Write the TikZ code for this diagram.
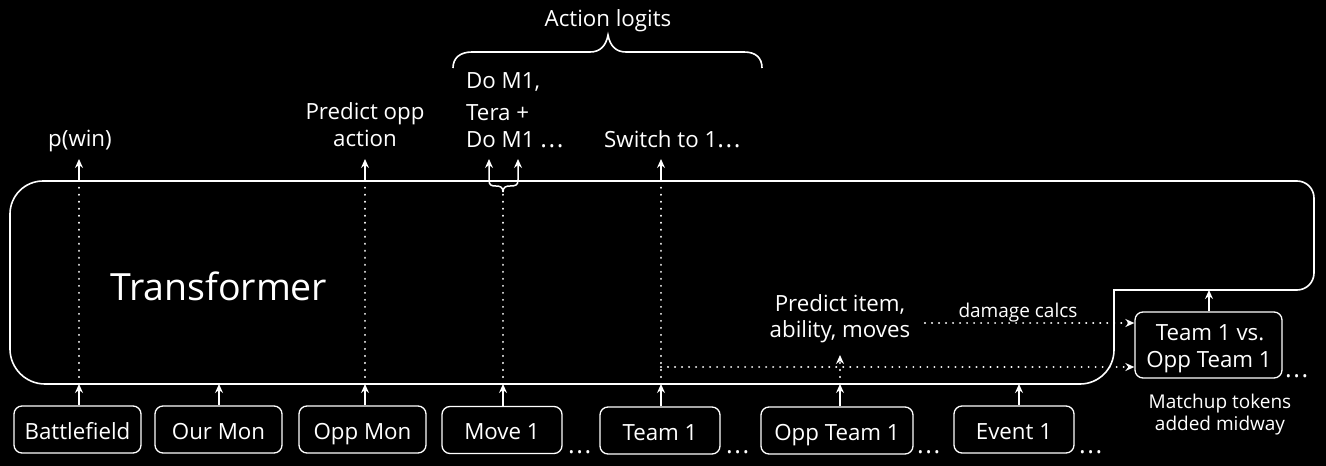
\documentclass[tikz,border=0pt]{standalone}
\usepackage{fontspec}
\setmainfont{Open Sans}
\usetikzlibrary{arrows.meta}
\newcommand\mydots{{\fontsize{25}{27}\selectfont.\kern1.6pt.\kern1.6pt.}}
\begin{document}
\begin{tikzpicture}[x=1pt,y=-1pt,
  outline/.style={draw=white, line width=1.6pt},
  tip/.style={-{Stealth[length=9pt,width=8pt,inset=3pt]}},
  arr/.style={draw=white, line width=1.5pt, tip},
  dot/.style={draw=white, line width=2.2pt, line cap=round, dash pattern=on 0.01pt off 7pt},
  tok/.style={draw=white, line width=1.3pt, rounded corners=8pt, minimum height=47pt,
    inner sep=0pt, text height=19pt, text depth=0pt, text=white,
    font=\fontsize{22.3}{27}\selectfont},
  lbl/.style={text=white, inner sep=0pt, anchor=base, font=\fontsize{22.3}{27}\selectfont},
  small/.style={text=white, inner sep=0pt, anchor=base, font=\fontsize{19}{23}\selectfont},
]
\fill[black] (0,0) rectangle (1326,466);
\useasboundingbox (0,0) rectangle (1326,466);

% Transformer outline
\draw[outline] (10,349) -- (10,214) .. controls (10,195.8) and (24.8,181) .. (43,181)
  -- (1297,181) .. controls (1306.4,181) and (1314,188.6) .. (1314,198)
  -- (1314,273) .. controls (1314,282.4) and (1306.4,290) .. (1297,290)
  -- (1114,290) -- (1114,350) .. controls (1114,368.8) and (1098.8,384) .. (1080,384)
  -- (45,384) .. controls (25.7,384) and (10,368.3) .. (10,349) -- cycle;
\node[text=white, inner sep=0pt, anchor=base west, font=\fontsize{37.5}{44}\selectfont] (tr) at (110,300) {Transformer};

% input tokens
\node[tok, minimum width=127pt] (bf) at (77.5,429.5) {Battlefield};
\node[tok, minimum width=127pt] (om) at (218.5,429.5) {Our Mon};
\node[tok, minimum width=127pt] (opm) at (362.5,429.5) {Opp Mon};
\node[tok, minimum width=120pt] (mv) at (502,430) {Move 1};
\node[tok, minimum width=120pt] (tm) at (660,430.5) {Team 1};
\node[tok, minimum width=152pt] (otm) at (837,430.5) {Opp Team 1};
\node[tok, minimum width=120pt] (ev) at (1014,429.5) {Event 1};
\node[draw=white, line width=1.3pt, rounded corners=8pt, minimum width=147pt, minimum height=66pt, inner sep=0pt] (mu) at (1208.5,345) {};
\node[lbl] (mu1) at (1210,340) {Team 1 vs.};
\node[lbl] (mu2) at (1209,367) {Opp Team 1};
\node[small] (mt1) at (1220,408) {Matchup tokens};
\node[small] (mt2) at (1220,430) {added midway};

% ellipses
\node[lbl, anchor=base west] (e1) at (568,453) {\mydots};
\node[lbl, anchor=base west] (e2) at (726,453) {\mydots};
\node[lbl, anchor=base west] (e3) at (917,453) {\mydots};
\node[lbl, anchor=base west] (e4) at (1079,453) {\mydots};
\node[lbl, anchor=base west] (e5) at (1285,377) {\mydots};

% coordinates on transformer bottom and top
\coordinate (a1) at (79,384); \coordinate (a2) at (219,384); \coordinate (a3) at (365,384);
\coordinate (a4) at (503,384); \coordinate (a5) at (661,384); \coordinate (a6) at (840,384);
\coordinate (a7) at (1019,384);
\coordinate (t1) at (79,181); \coordinate (t3) at (365,181); \coordinate (t5) at (661,181);
\coordinate (o1) at (79,159); \coordinate (o3) at (365,159); \coordinate (o5) at (661,159);
\coordinate (bt) at (503,192);
\coordinate (oL) at (489,159); \coordinate (oR) at (518,159);

\foreach \n/\c in {bf/a1, om/a2, opm/a3, mv/a4, tm/a5, otm/a6, ev/a7}
  \draw[arr] (\n.north -| \c) -- (\c);

\draw[dot] (a1) -- (t1); \draw[arr] (t1) -- (o1);
\draw[dot] (a3) -- (t3); \draw[arr] (t3) -- (o3);
\draw[dot] (a5) -- (t5); \draw[arr] (t5) -- (o5);
\draw[dot] (a4) -- (bt);
\draw[arr] (bt) .. controls (503,187) and (500,186) .. (496,186)
  .. controls (491,186) and (489,185) .. (489,180) -- (oL);
\draw[arr] (bt) .. controls (503,187) and (506,186) .. (510,186)
  .. controls (516,186) and (518,185) .. (518,180) -- (oR);

% opp team prediction
\coordinate (p6) at (840,355);
\draw[dot, tip] (a6) -- (p6);
\node[lbl] (pi1) at (840,311) {Predict item,};
\node[lbl] (pi2) at (840,337) {ability, moves};
\coordinate (d0) at (925,323);
\draw[dot, tip] (d0) -- (mu.west |- d0);
\node[small] (dc) at (1018,317) {damage calcs};
\coordinate (s0) at (661,367);
\draw[dot, tip] (s0) -- (mu.west |- s0);
\coordinate (m0) at (1209,290);
\draw[arr] (mu.north -| m0) -- (m0);

% output labels
\node[lbl] (pw) at (80,146) {p(win)};
\node[lbl] (po1) at (365,119) {Predict opp};
\node[lbl] (po2) at (365,146) {action};
\node[lbl, anchor=base west] (dm1) at (466,88) {Do M1,};
\node[lbl, anchor=base west] (te1) at (466,120) {Tera +};
\node[lbl, anchor=base west] (te2) at (466,147) {Do M1 \mydots};
\node[lbl, anchor=base west] (sw) at (604,147) {Switch to 1\mydots};
\node[lbl] (al) at (608,26) {Action logits};
\draw[outline] (453,68) .. controls (453,58) and (460,52) .. (472,52) -- (590,52)
  .. controls (600,52) and (606,46) .. (608,35)
  .. controls (610,46) and (616,52) .. (626,52) -- (744,52)
  .. controls (756,52) and (762,58) .. (762,68);
\end{tikzpicture}
\end{document}
